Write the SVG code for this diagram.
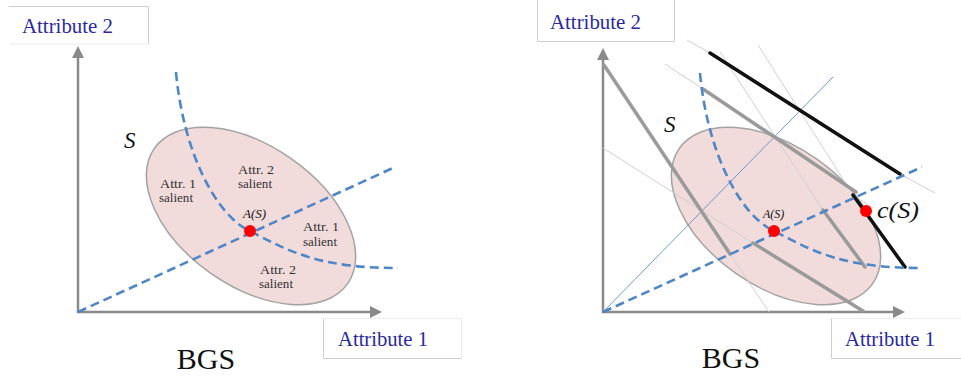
<svg xmlns="http://www.w3.org/2000/svg" width="961" height="377" viewBox="0 0 961 377">
<style>
.axis{stroke:#8a8a8a;stroke-width:2.5;fill:none}
.ell{fill:#f2dbdb;stroke:#a3a3a3;stroke-width:1.5}
.dash{stroke:#4f86c6;stroke-width:2.6;fill:none;stroke-dasharray:9 5}
.thinblue{stroke:#5a8fcf;stroke-width:0.9;fill:none}
.gray{stroke:#9a9a9a;stroke-width:3.5;stroke-linecap:round;fill:none}
.black{stroke:#111;stroke-width:3.5;stroke-linecap:round;fill:none}
.thin{stroke:#d0d0d0;stroke-width:1;fill:none}
.edge{stroke:#cfcfcf;stroke-width:1;fill:none}
.faint{stroke:#ececec;stroke-width:1;fill:none}
.attr{font-family:"Liberation Serif",serif;font-size:20px;fill:#2a2aa0}
.bgs{font-family:"Liberation Serif",serif;font-size:30px;fill:#111}
.sal{font-family:"Liberation Serif",serif;font-size:12px;fill:#333}
.it{font-family:"Liberation Serif",serif;font-style:italic;fill:#111}
.dot{fill:#ff0000}
</style>
<defs>
<marker id="arr" viewBox="0 0 10 10" refX="0" refY="5" markerWidth="12" markerHeight="12" markerUnits="userSpaceOnUse" orient="auto">
<path d="M0,0 L10,5 L0,10 Z" fill="#8a8a8a"/>
</marker>
</defs>

<!-- LEFT PANEL -->
<g id="left-panel">
  <g id="left-axes">
    <line class="axis" x1="78" y1="313" x2="78" y2="58" marker-end="url(#arr)"/>
    <line class="axis" x1="77" y1="312" x2="370" y2="312" marker-end="url(#arr)"/>
  </g>
  <g id="left-set">
    <ellipse class="ell" cx="251" cy="216" rx="118" ry="70" transform="rotate(35 251 216)"/>
  </g>
  <g id="left-connectors">
    <path class="dash" d="M78,312 L395,167"/>
    <path class="dash" d="M176,72 C183,150 215,215 250,231 C290,252 320,268 398,268"/>
  </g>
  <g id="left-point">
    <circle class="dot" cx="250" cy="231" r="6"/>
    <text class="it" x="243" y="218" font-size="13">A(S)</text>
  </g>
  <text class="it" x="124" y="148" font-size="23">S</text>
  <g id="left-regions">
    <text class="sal" x="160" y="188" textLength="36" lengthAdjust="spacingAndGlyphs">Attr. 1</text>
    <text class="sal" x="159" y="202" textLength="34" lengthAdjust="spacingAndGlyphs">salient</text>
    <text class="sal" x="238" y="174" textLength="36" lengthAdjust="spacingAndGlyphs">Attr. 2</text>
    <text class="sal" x="238" y="188" textLength="34" lengthAdjust="spacingAndGlyphs">salient</text>
    <text class="sal" x="303" y="231" textLength="36" lengthAdjust="spacingAndGlyphs">Attr. 1</text>
    <text class="sal" x="303" y="246" textLength="34" lengthAdjust="spacingAndGlyphs">salient</text>
    <text class="sal" x="260" y="274" textLength="36" lengthAdjust="spacingAndGlyphs">Attr. 2</text>
    <text class="sal" x="259" y="288" textLength="34" lengthAdjust="spacingAndGlyphs">salient</text>
  </g>
  <g id="left-attr2">
    <path class="edge" d="M9,6.5 H148.5 V44"/>
    <path class="faint" d="M9,44 H148.5"/>
    <text class="attr" x="22" y="33" textLength="91" lengthAdjust="spacingAndGlyphs">Attribute 2</text>
  </g>
  <g id="left-attr1">
    <path class="faint" d="M323.5,318.5 H461.5 V358"/>
    <path class="edge" d="M323.5,318.5 V358.5 H461.5"/>
    <text class="attr" x="338" y="346" textLength="90" lengthAdjust="spacingAndGlyphs">Attribute 1</text>
  </g>
  <text class="bgs" x="206" y="369" text-anchor="middle">BGS</text>
</g>

<!-- RIGHT PANEL -->
<g id="right-panel">
  <g id="right-axes">
    <line class="axis" x1="603" y1="313" x2="603" y2="60" marker-end="url(#arr)"/>
    <line class="axis" x1="602" y1="312" x2="893" y2="312" marker-end="url(#arr)"/>
  </g>
  <g id="right-set">
    <ellipse class="ell" cx="776" cy="216" rx="118" ry="70" transform="rotate(35 776 216)"/>
  </g>
  <g id="right-connectors">
    <path class="thin" d="M603,148 L753,243"/>
    <path class="thin" d="M730,254 L769,312"/>
    <path class="thin" d="M665,64 L703,89"/>
    <path class="thin" d="M853,195 L873,208"/>
    <path class="thin" d="M720,52 L823,210"/>
    <path class="thin" d="M758,45 L853,195"/>
    <path class="thin" d="M687,40 L710,53"/>
    <path class="thin" d="M900,174 L935,193"/>
    <path class="thinblue" d="M603,312 L833,77"/>
    <path class="gray" d="M604,65 L730,254"/>
    <path class="gray" d="M753,243 L863,311"/>
    <path class="gray" d="M703,89 L856,192"/>
    <path class="gray" d="M823,210 L865,267"/>
    <path class="black" d="M710,53 L900,174"/>
    <path class="black" d="M853,195 L905,267"/>
    <path class="dash" d="M603,312 L922,167"/>
    <path class="dash" d="M700,73 C707,150 739,215 774,231 C814,252 844,268 922,268"/>
  </g>
  <g id="right-point-a">
    <circle class="dot" cx="774" cy="231" r="6"/>
    <text class="it" x="763" y="218" font-size="12">A(S)</text>
  </g>
  <g id="right-point-c">
    <circle class="dot" cx="866" cy="211" r="6"/>
    <text class="it" x="877" y="218" font-size="23" textLength="42" lengthAdjust="spacingAndGlyphs">c(S)</text>
  </g>
  <text class="it" x="664" y="132" font-size="23">S</text>
  <g id="right-attr2">
    <path class="edge" d="M537.5,0 V41.5 H674.5 V0"/>
    <text class="attr" x="550" y="29" textLength="91" lengthAdjust="spacingAndGlyphs">Attribute 2</text>
  </g>
  <g id="right-attr1">
    <path class="faint" d="M831.5,318.5 H961"/>
    <path class="edge" d="M831.5,318.5 V358.5 H961"/>
    <text class="attr" x="845" y="346" textLength="90" lengthAdjust="spacingAndGlyphs">Attribute 1</text>
  </g>
  <text class="bgs" x="731" y="368" text-anchor="middle">BGS</text>
</g>
</svg>
